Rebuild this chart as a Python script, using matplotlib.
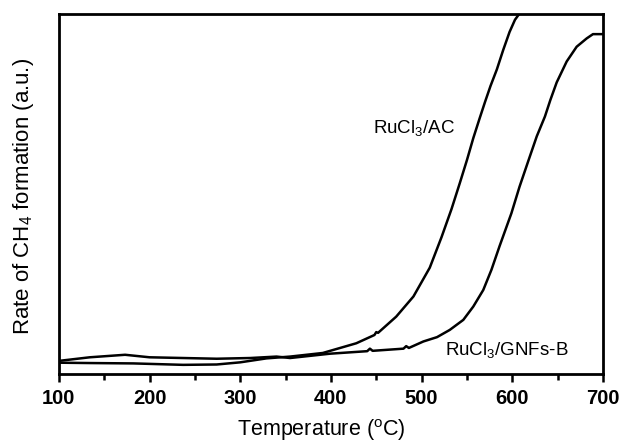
import numpy as np
import matplotlib
matplotlib.use("Agg")
import matplotlib.pyplot as plt
from matplotlib.ticker import MultipleLocator

plt.rcParams['font.family'] = ['Liberation Sans', 'DejaVu Sans']
plt.rcParams['mathtext.fontset'] = 'custom'
plt.rcParams['mathtext.rm'] = 'Liberation Sans'
plt.rcParams['mathtext.it'] = 'Liberation Sans'

# RuCl3/AC curve (temperature in C, rate in a.u.)
t_ac = [100, 134, 182, 237, 274, 300, 329, 355, 391, 428, 448, 450, 452, 472, 491,
        509, 522, 533, 542, 550, 557, 564, 570, 576, 583, 590, 597, 603, 609]
r_ac = [3.1, 3.0, 2.9, 2.5, 2.6, 3.2, 4.3, 4.8, 5.8, 8.5, 10.8, 11.6, 11.4, 15.9, 21.5,
        29.5, 38.0, 45.8, 52.9, 59.4, 65.5, 71.0, 75.6, 80.0, 84.6, 90.0, 95.0, 98.4, 100.5]

# RuCl3/GNFs-B curve
t_gn = [100, 134, 173, 200, 237, 274, 311, 340, 355, 399, 440, 443, 446, 480, 483, 486,
        502, 517, 531, 546, 557, 568, 577, 586, 599, 608, 618, 627, 636, 642, 649, 660,
        671, 682, 689, 700]
r_gn = [3.6, 4.6, 5.3, 4.6, 4.4, 4.2, 4.4, 4.8, 4.4, 5.6, 6.3, 7.0, 6.4, 7.0, 7.7, 7.2,
        9.0, 10.2, 12.2, 15.0, 18.7, 23.3, 28.9, 35.5, 44.6, 52.0, 59.4, 66.0, 71.5, 76.1, 81.0, 86.8,
        90.9, 93.2, 94.4, 94.4]

xticks = [100, 200, 300, 400, 500, 600, 700]

fig = plt.figure(figsize=(6.2, 4.44), dpi=100)
ax = fig.add_axes([0.095, 0.158, 0.8775, 0.8105])

ax.plot(t_ac, r_ac, color='black', linewidth=1.8)
ax.plot(t_gn, r_gn, color='black', linewidth=1.8)

ax.set_xlim(100, 700)
ax.set_ylim(0, 100)
ax.set_xticks(xticks)
ax.xaxis.set_minor_locator(MultipleLocator(50))
ax.set_yticks([])
ax.tick_params(axis='x', which='major', direction='out', length=6, width=1.8,
               labelsize=14.5, pad=5)
ax.tick_params(axis='x', which='minor', direction='out', length=4, width=1.8)
for lab in ax.get_xticklabels():
    lab.set_fontweight('bold')
for sp in ax.spines.values():
    sp.set_linewidth(2)

ax.set_xlabel('Temperature ($^{\\rm o}$C)', fontsize=15.5, va='center')
ax.xaxis.set_label_coords(0.4816, -0.155)
ax.set_ylabel('Rate of CH$_4$ formation (a.u.)', fontsize=16, va='center')
ax.yaxis.set_label_coords(-0.0643, 0.494)

ax.text(446, 68.3, 'RuCl$_3$/AC', fontsize=13.5, va='center', ha='left')
ax.text(525.5, 6.7, 'RuCl$_3$/GNFs-B', fontsize=13.5, va='center', ha='left')

fig.savefig('out.png', dpi=100)
